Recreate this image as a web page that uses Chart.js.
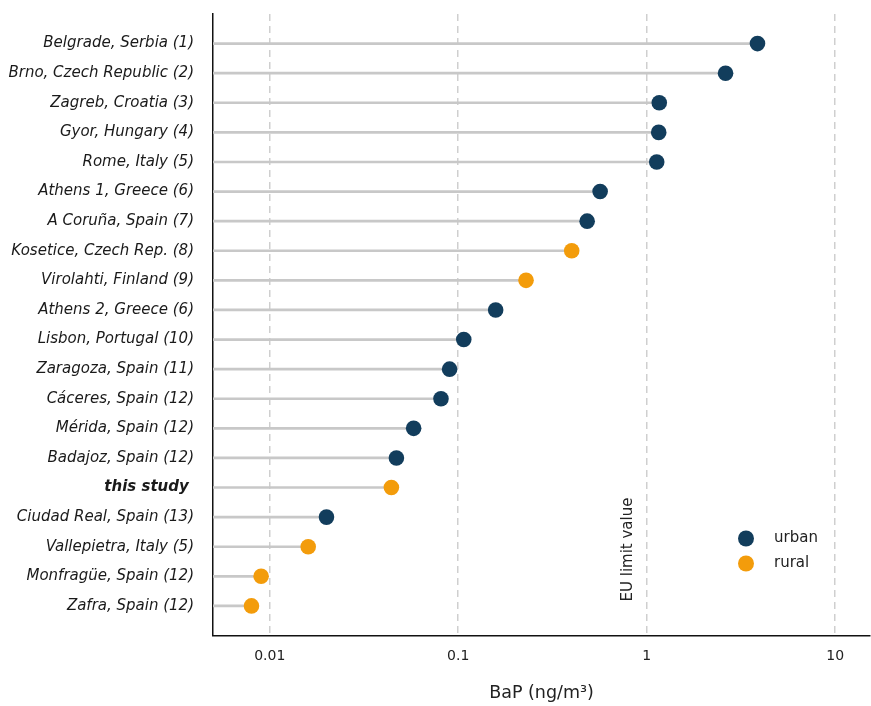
<!DOCTYPE html>
<html><head><meta charset="utf-8">
<script src="https://cdn.jsdelivr.net/npm/chart.js@4/dist/chart.umd.min.js"></script>
<style>html,body{margin:0;padding:0;background:#fff}#wrap{width:871px;height:706px}</style>
</head><body><div id="wrap"><canvas id="c" width="871" height="706"></canvas></div>
<script>
const sites = ['Belgrade, Serbia (1)','Brno, Czech Republic (2)','Zagreb, Croatia (3)','Gyor, Hungary (4)','Rome, Italy (5)','Athens 1, Greece (6)','A Coruña, Spain (7)','Kosetice, Czech Rep. (8)','Virolahti, Finland (9)','Athens 2, Greece (6)','Lisbon, Portugal (10)','Zaragoza, Spain (11)','Cáceres, Spain (12)','Mérida, Spain (12)','Badajoz, Spain (12)','this study ','Ciudad Real, Spain (13)','Vallepietra, Italy (5)','Monfragüe, Spain (12)','Zafra, Spain (12)'];
const bapValues = [3.87,2.62,1.166,1.158,1.13,0.566,0.483,0.40,0.229,0.158,0.107,0.090,0.081,0.058,0.047,0.0442,0.020,0.016,0.0090,0.0080];
const siteTypes = ['urban','urban','urban','urban','urban','urban','urban','rural','rural','urban','urban','urban','urban','urban','urban','rural','urban','rural','rural','rural'];
const seriesNames = ['urban','rural'];
const seriesColors = ['#123d5c','#f39c0b'];
const xTickValues = [0.01,0.1,1,10];
const xTickLabels = ['0.01','0.1','1','10'];
const xMin = 0.005, xMax = 15.3;
const limitValue = 1;
const limitLabel = 'EU limit value';
const xTitle = 'BaP (ng/m³)';

const FONT = '"DejaVu Sans", sans-serif';
const labels = [''].concat(sites, ['']);
const pad = v => [null].concat(v, [null]);

const stemData = pad(bapValues.map(v => [xMin, v]));
const pointSets = seriesNames.map((name, k) => ({
  type: 'line',
  label: name,
  indexAxis: 'y',
  data: pad(bapValues.map((v, i) => siteTypes[i] === name ? v : null)),
  showLine: false,
  pointRadius: 7.8,
  pointHoverRadius: 7.8,
  pointBackgroundColor: seriesColors[k],
  pointBorderWidth: 0,
  backgroundColor: seriesColors[k],
  borderColor: seriesColors[k],
  order: 0
}));

const overlay = {
  id: 'overlay',
  afterDatasetsDraw(chart) {
    const {ctx, chartArea, scales} = chart;
    const x = scales.x.getPixelForValue(limitValue) - 19;
    ctx.save();
    ctx.translate(x, chartArea.bottom - 34);
    ctx.rotate(-Math.PI / 2);
    ctx.font = '15px ' + FONT;
    ctx.fillStyle = '#222';
    ctx.textAlign = 'left';
    ctx.textBaseline = 'middle';
    ctx.fillText(limitLabel, 0, 0);
    ctx.restore();
    // legend
    ctx.save();
    const lx = chartArea.right - 124;
    seriesNames.forEach((name, k) => {
      const ly = chartArea.bottom - 97 + k * 25;
      ctx.beginPath();
      ctx.arc(lx, ly, 8, 0, Math.PI * 2);
      ctx.fillStyle = seriesColors[k];
      ctx.fill();
      ctx.font = '15px ' + FONT;
      ctx.fillStyle = '#222';
      ctx.textAlign = 'left';
      ctx.textBaseline = 'middle';
      ctx.fillText(name, lx + 28, ly);
    });
    ctx.restore();
  }
};

new Chart(document.getElementById('c'), {
  type: 'bar',
  data: {
    labels: labels,
    datasets: [
      {
        type: 'bar',
        label: 'stem',
        indexAxis: 'y',
        data: stemData,
        backgroundColor: '#c8c8c8',
        borderWidth: 0,
        barThickness: 2,
        order: 1
      }
    ].concat(pointSets)
  },
  options: {
    indexAxis: 'y',
    responsive: false,
    animation: false,
    layout: {autoPadding: false, padding: {top: 14, right: 1, left: 0, bottom: 0}},
    plugins: {legend: {display: false}, tooltip: {enabled: false}},
    scales: {
      x: {
        type: 'logarithmic',
        position: 'bottom',
        min: xMin,
        max: xMax,
        afterBuildTicks: s => { s.ticks = xTickValues.map(v => ({value: v})); },
        afterFit: s => { s.height = 70.5; s.paddingLeft = 0; s.paddingRight = 0; },
        ticks: {
          autoSkip: false,
          maxRotation: 0,
          padding: 12,
          color: '#222',
          font: {family: FONT, size: 14},
          callback: (v) => { const i = xTickValues.indexOf(v); return i >= 0 ? xTickLabels[i] : ''; }
        },
        grid: {display: true, drawTicks: false, lineWidth: 1.5, color: '#cfcfcf'},
        border: {display: true, color: '#111', width: 1.5, dash: [7, 5]},
        title: {display: true, text: xTitle, color: '#222', font: {family: FONT, size: 17.5}, padding: {top: 0, bottom: 2}}
      },
      y: {
        type: 'category',
        position: 'left',
        offset: false,
        afterFit: s => { s.width = 213; s.paddingTop = 0; s.paddingBottom = 0; },
        ticks: {
          autoSkip: false,
          padding: 19,
          color: '#1a1a1a',
          font: (ctx) => ({family: FONT, size: 15, style: 'italic', weight: (ctx.tick && String(ctx.tick.label).trim() === 'this study') ? 'bold' : 'normal'})
        },
        grid: {display: false, drawTicks: false},
        border: {display: true, color: '#111', width: 1.5}
      }
    }
  },
  plugins: [overlay]
});
</script></body></html>
